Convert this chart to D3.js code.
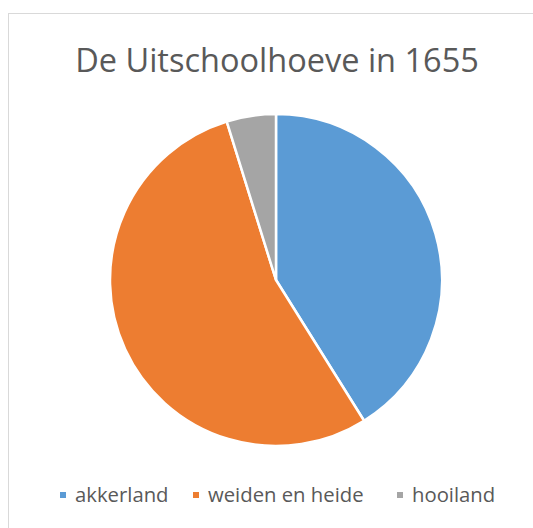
<!DOCTYPE html>
<html><head><meta charset="utf-8">
<script src="https://cdn.jsdelivr.net/npm/d3@7"></script>
<style>body{margin:0;background:#fff}svg{display:block}</style>
</head><body>
<script>
const categories = ["akkerland", "weiden en heide", "hooiland"];
const values = [41.1, 54.1, 4.8];
const colors = ["#5B9BD5", "#ED7D31", "#A5A5A5"];
const title = "De Uitschoolhoeve in 1655";

const W = 533, H = 528;
const svg = d3.select("body").append("svg").attr("width", W).attr("height", H);
svg.append("rect").attr("x", 8.5).attr("y", 13.5).attr("width", 600).attr("height", 600)
  .attr("fill", "#fff").attr("stroke", "#d9d9d9").attr("stroke-width", 1);

svg.append("text").attr("x", 277).attr("y", 72).attr("text-anchor", "middle")
  .attr("font-family", "Open Sans, sans-serif").attr("font-size", 32.5).attr("fill", "#595959")
  .text(title);

const data = categories.map((c, i) => ({c, v: values[i], col: colors[i]}));
const pie = d3.pie().value(d => d.v).sort(null);
const arc = d3.arc().innerRadius(0).outerRadius(166);
const g = svg.append("g").attr("transform", "translate(276,280)");
g.selectAll("path").data(pie(data)).join("path")
  .attr("d", arc).attr("fill", d => d.data.col)
  .attr("stroke", "#fff").attr("stroke-width", 2.5).attr("stroke-linejoin", "round");

const legX = [60, 193, 397];
const leg = svg.append("g");
data.forEach((d, i) => {
  leg.append("rect").attr("x", legX[i]).attr("y", 492).attr("width", 6).attr("height", 6).attr("fill", d.col);
  leg.append("text").attr("x", legX[i] + 15).attr("y", 502)
    .attr("font-family", "Open Sans, sans-serif").attr("font-size", 20.3).attr("fill", "#595959")
    .text(d.c);
});
</script>
</body></html>
